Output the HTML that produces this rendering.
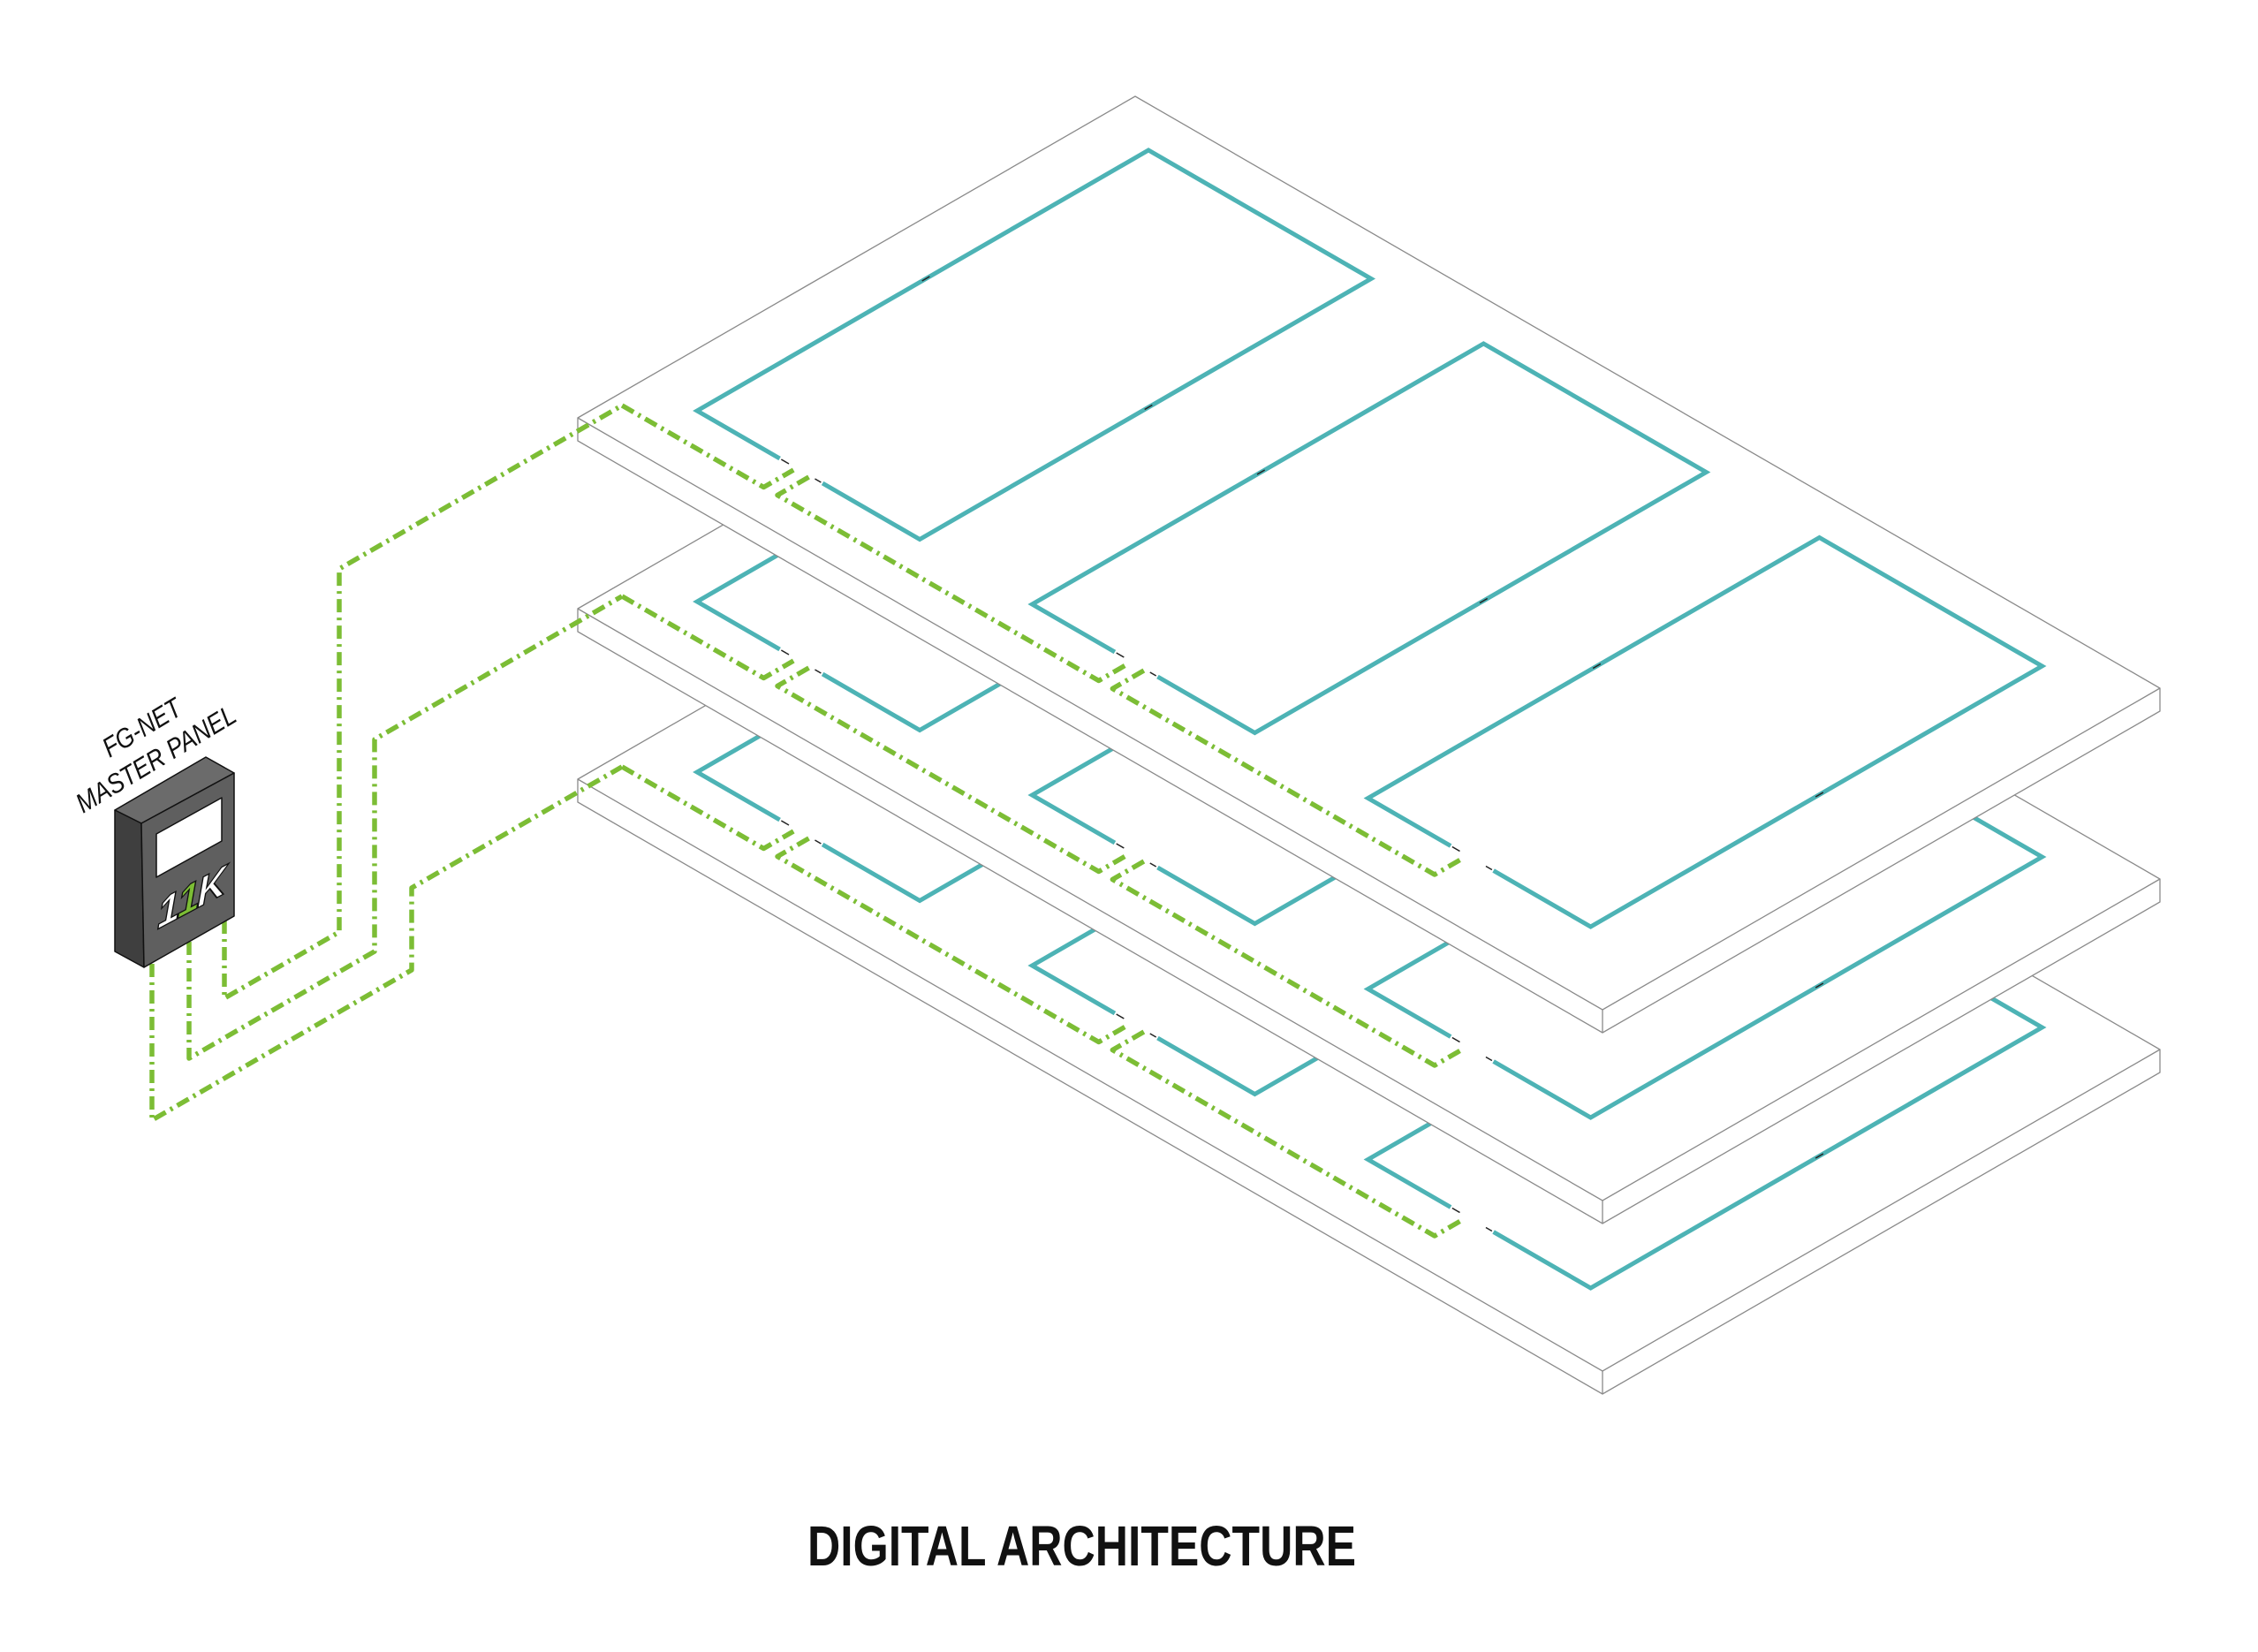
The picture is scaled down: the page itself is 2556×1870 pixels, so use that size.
<!DOCTYPE html>
<html><head><meta charset="utf-8">
<style>
html,body{margin:0;padding:0;background:#fff;}
svg{display:block;}
</style></head>
<body>
<svg width="2556" height="1870" viewBox="0 0 2556 1870" xmlns="http://www.w3.org/2000/svg">
<defs>
  <g id="content">
    <g fill="none" stroke="#4db3b5" stroke-width="5" stroke-linejoin="miter">
      <path vector-effect="non-scaling-stroke" d="M178,86 L70,86 L70,676 L361,676 L361,86 L234,86"/>
      <path vector-effect="non-scaling-stroke" d="M616,86 L508,86 L508,676 L799,676 L799,86 L672,86"/>
      <path vector-effect="non-scaling-stroke" d="M1055,86 L947,86 L947,676 L1238,676 L1238,86 L1111,86"/>
    </g>
    <g stroke="#222" stroke-width="1.5">
      <path vector-effect="non-scaling-stroke" d="M180,86 L190,86 M224,86 L232,86 M618,86 L628,86 M662,86 L670,86 M1057,86 L1067,86 M1101,86 L1109,86 M70,380 L70,390 M361,380 L361,390 M508,380 L508,390 M799,380 L799,390 M947,380 L947,390 M1238,380 L1238,390"/>
    </g>
    <g fill="none" stroke="#7cbd35" stroke-width="5.5" stroke-dasharray="15 6 3 6" stroke-linejoin="round">
      <path vector-effect="non-scaling-stroke" d="M15,43 L200,43 L200,82"/>
      <path vector-effect="non-scaling-stroke" d="M218,84 L218,43 L638,43 L638,82"/>
      <path vector-effect="non-scaling-stroke" d="M656,84 L656,43 L1077,43 L1077,82"/>
    </g>
  </g>
</defs>

<g>
  <polygon points="654,882 1285,518 2445,1188 2445,1214 1814,1578 654,908" fill="#fff" stroke="#8a8a8a" stroke-width="1.3"/>
  <polyline points="654,882 1814,1552 2445,1188" fill="none" stroke="#8a8a8a" stroke-width="1.3"/>
  <line x1="1814" y1="1552" x2="1814" y2="1578" stroke="#8a8a8a" stroke-width="1.3"/>
  <g transform="matrix(0.866,0.5,0.866,-0.5,654,882)"><use href="#content"/></g>
</g>
<g>
  <polygon points="654,689 1285,325 2445,995 2445,1021 1814,1385 654,715" fill="#fff" stroke="#8a8a8a" stroke-width="1.3"/>
  <polyline points="654,689 1814,1359 2445,995" fill="none" stroke="#8a8a8a" stroke-width="1.3"/>
  <line x1="1814" y1="1359" x2="1814" y2="1385" stroke="#8a8a8a" stroke-width="1.3"/>
  <g transform="matrix(0.866,0.5,0.866,-0.5,654,689)"><use href="#content"/></g>
</g>
<g>
  <polygon points="654,473 1285,109 2445,779 2445,805 1814,1169 654,499" fill="#fff" stroke="#8a8a8a" stroke-width="1.3"/>
  <polyline points="654,473 1814,1143 2445,779" fill="none" stroke="#8a8a8a" stroke-width="1.3"/>
  <line x1="1814" y1="1143" x2="1814" y2="1169" stroke="#8a8a8a" stroke-width="1.3"/>
  <g transform="matrix(0.866,0.5,0.866,-0.5,654,473)"><use href="#content"/></g>
</g>

<g fill="none" stroke="#7cbd35" stroke-width="5.5" stroke-dasharray="15 6 3 6" stroke-linejoin="round">
  <path d="M254,1042 L254,1130 L384,1055 L384,644 L704,459"/>
  <path d="M214,1066 L214,1198 L424,1077 L424,837 L704,675"/>
  <path d="M172,1091 L172,1268 L466,1098 L466,1005 L704,868"/>
</g>

<g stroke="#111" stroke-width="1.5" stroke-linejoin="round">
  <polygon points="130,917 233,857 265,875 160,932" fill="#6b6b6b"/>
  <polygon points="130,917 160,932 163,1095 130,1077" fill="#3f3f3f"/>
  <polygon points="160,932 265,875 265,1037 163,1095" fill="#5f5f5f"/>
  <polygon points="177,944 251,903 251,952 177,993" fill="#fff"/>
</g>
<g transform="translate(178,1052) skewY(-28)">
  <text x="0" y="0" font-family="Liberation Sans, sans-serif" font-weight="900" font-style="italic" font-size="46" fill="#fff" stroke="#111" stroke-width="1.5" letter-spacing="-3"><tspan>1</tspan><tspan fill="#7cbd35">1</tspan><tspan>K</tspan></text>
</g>

<text transform="translate(124,858) rotate(-31)" font-family="Liberation Sans, sans-serif" font-style="italic" font-size="31" fill="#111" textLength="98" lengthAdjust="spacingAndGlyphs">FG-NET</text>
<text transform="translate(94,921) rotate(-31)" font-family="Liberation Sans, sans-serif" font-style="italic" font-size="31" fill="#111" textLength="205" lengthAdjust="spacingAndGlyphs">MASTER PANEL</text>

<text x="914" y="1772" font-family="Liberation Sans, sans-serif" font-weight="bold" font-size="64" fill="#111" textLength="621" lengthAdjust="spacingAndGlyphs">DIGITAL ARCHITECTURE</text>
</svg>
</body></html>
